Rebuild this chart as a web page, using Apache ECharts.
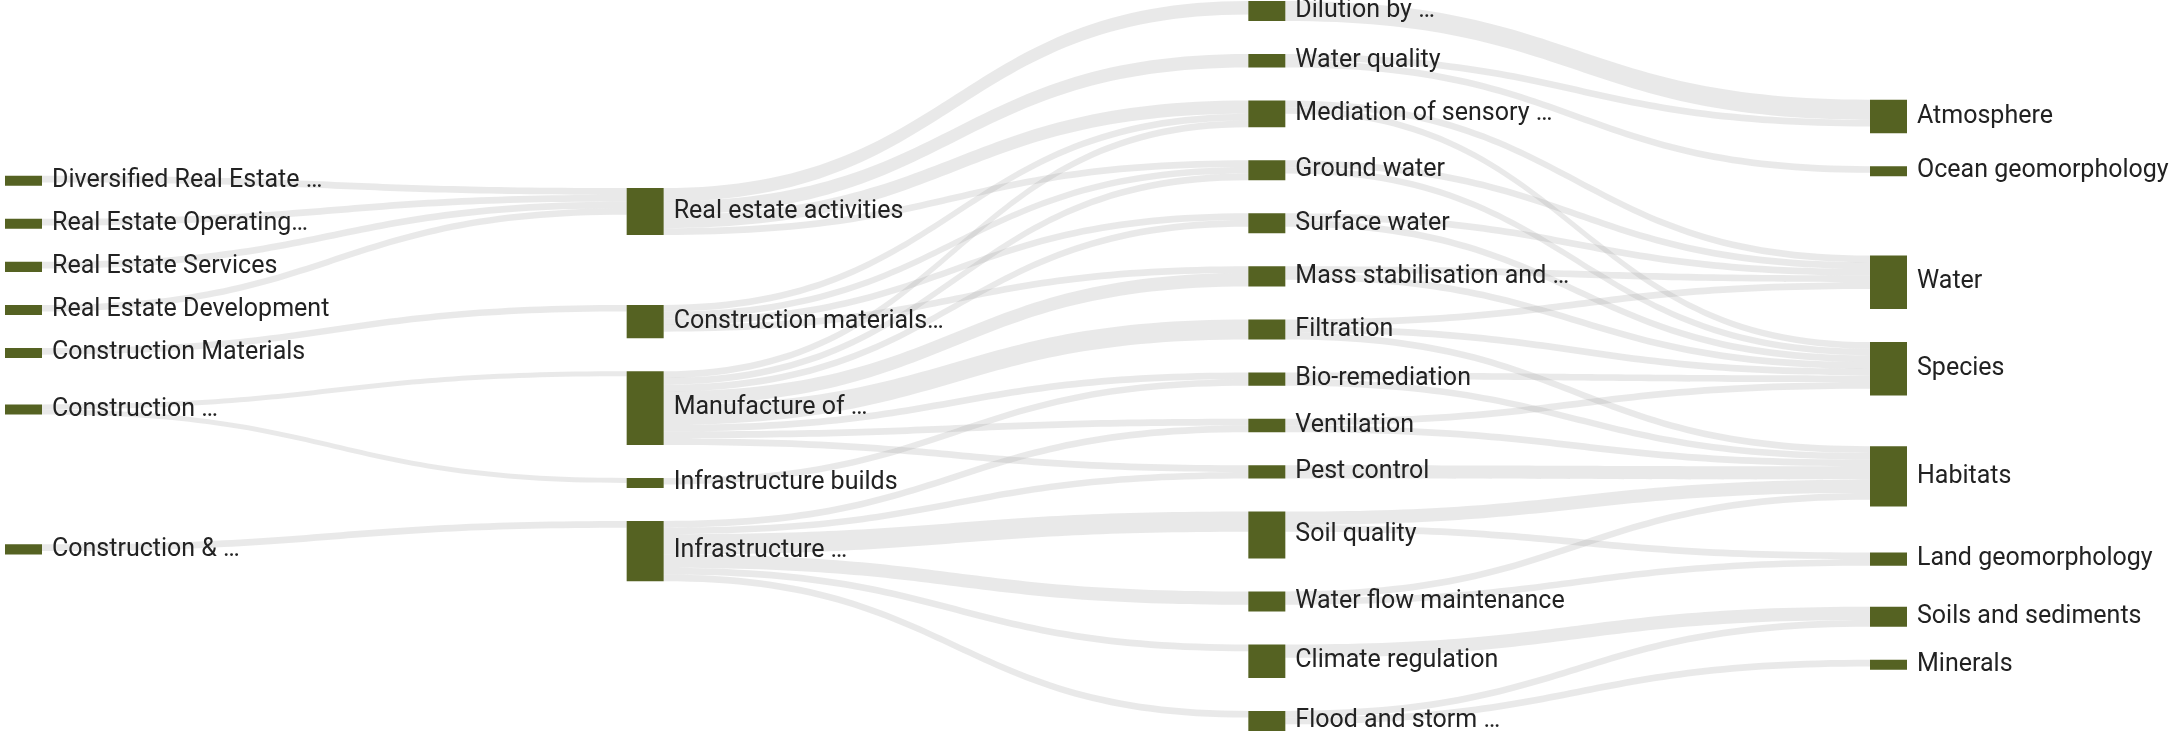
<!DOCTYPE html>
<html>
<head>
<meta charset="utf-8">
<title>Sankey</title>
<script src="https://cdn.jsdelivr.net/npm/echarts@6/dist/echarts.min.js"></script>
<style>
  html, body { margin: 0; padding: 0; background: #fff; }
  #chart { width: 2170px; height: 735px; }
</style>
</head>
<body>
<div id="chart"></div>
<script>
  // column 1: sub-industries
  var industries = ['Diversified Real Estate …', 'Real Estate Operating…', 'Real Estate Services',
    'Real Estate Development', 'Construction Materials', 'Construction …', 'Construction & …'];
  var industryValues = [1.5, 1.5, 1.5, 1.5, 1.5, 1.5, 1.5];

  // column 2: production processes
  var processes = ['Real estate activities', 'Construction materials…', 'Manufacture of …',
    'Infrastructure builds', 'Infrastructure …'];
  var processValues = [7, 5, 11, 1.5, 9];

  // column 3: ecosystem services
  var services = ['Dilution by …', 'Water quality', 'Mediation of sensory …', 'Ground water',
    'Surface water', 'Mass stabilisation and …', 'Filtration', 'Bio-remediation', 'Ventilation',
    'Pest control', 'Soil quality', 'Water flow maintenance', 'Climate regulation', 'Flood and storm …'];
  var serviceValues = [3, 2, 4, 3, 3, 3, 3, 2, 2, 2, 7, 3, 5, 3];

  // column 4: natural capital assets
  var assets = ['Atmosphere', 'Ocean geomorphology', 'Water', 'Species', 'Habitats',
    'Land geomorphology', 'Soils and sediments', 'Minerals'];
  var assetValues = [5, 1.5, 8, 8, 9, 2, 3, 1.5];

  // links: [source, target, value]
  var industryLinks = [
    ['Diversified Real Estate …', 'Real estate activities', 1],
    ['Real Estate Operating…', 'Real estate activities', 1],
    ['Real Estate Services', 'Real estate activities', 1],
    ['Real Estate Development', 'Real estate activities', 1],
    ['Construction Materials', 'Construction materials…', 1],
    ['Construction …', 'Manufacture of …', 0.75],
    ['Construction …', 'Infrastructure builds', 0.75],
    ['Construction & …', 'Infrastructure …', 1]
  ];

  var processLinks = [
    ['Real estate activities', 'Dilution by …', 2],
    ['Real estate activities', 'Water quality', 2],
    ['Real estate activities', 'Mediation of sensory …', 2],
    ['Real estate activities', 'Ground water', 1],
    ['Construction materials…', 'Mediation of sensory …', 1],
    ['Construction materials…', 'Ground water', 1],
    ['Construction materials…', 'Surface water', 1],
    ['Construction materials…', 'Mass stabilisation and …', 1],
    ['Manufacture of …', 'Mediation of sensory …', 1],
    ['Manufacture of …', 'Ground water', 1],
    ['Manufacture of …', 'Surface water', 1],
    ['Manufacture of …', 'Mass stabilisation and …', 2],
    ['Manufacture of …', 'Filtration', 3],
    ['Manufacture of …', 'Bio-remediation', 1],
    ['Manufacture of …', 'Ventilation', 1],
    ['Manufacture of …', 'Pest control', 1],
    ['Infrastructure builds', 'Bio-remediation', 1],
    ['Infrastructure …', 'Ventilation', 1],
    ['Infrastructure …', 'Pest control', 1],
    ['Infrastructure …', 'Soil quality', 3],
    ['Infrastructure …', 'Water flow maintenance', 2],
    ['Infrastructure …', 'Climate regulation', 1],
    ['Infrastructure …', 'Flood and storm …', 1]
  ];

  var serviceLinks = [
    ['Dilution by …', 'Atmosphere', 3],
    ['Water quality', 'Atmosphere', 1],
    ['Water quality', 'Ocean geomorphology', 1],
    ['Mediation of sensory …', 'Water', 1],
    ['Mediation of sensory …', 'Species', 1],
    ['Ground water', 'Water', 1],
    ['Ground water', 'Species', 1],
    ['Surface water', 'Water', 1],
    ['Surface water', 'Species', 1],
    ['Mass stabilisation and …', 'Water', 1],
    ['Mass stabilisation and …', 'Species', 1],
    ['Filtration', 'Water', 1],
    ['Filtration', 'Species', 1],
    ['Filtration', 'Habitats', 1],
    ['Bio-remediation', 'Species', 1],
    ['Bio-remediation', 'Habitats', 1],
    ['Ventilation', 'Species', 1],
    ['Ventilation', 'Habitats', 1],
    ['Pest control', 'Habitats', 2],
    ['Soil quality', 'Habitats', 2],
    ['Soil quality', 'Land geomorphology', 1],
    ['Water flow maintenance', 'Habitats', 1],
    ['Water flow maintenance', 'Land geomorphology', 1],
    ['Climate regulation', 'Soils and sediments', 2],
    ['Flood and storm …', 'Soils and sediments', 1],
    ['Flood and storm …', 'Minerals', 1]
  ];

  function toNodes(names, values) {
    return names.map(function (name, i) {
      return {name: name, value: values[i]};
    });
  }

  function toLinks(list) {
    return list.map(function (l) {
      return {source: l[0], target: l[1], value: l[2]};
    });
  }

  var nodes = [].concat(
    toNodes(industries, industryValues),
    toNodes(processes, processValues),
    toNodes(services, serviceValues),
    toNodes(assets, assetValues)
  );
  var links = [].concat(toLinks(industryLinks), toLinks(processLinks), toLinks(serviceLinks));

  var chart = echarts.init(document.getElementById('chart'));
  chart.setOption({
    animation: false,
    series: [
      {
        type: 'sankey',
        left: 5,
        right: 263,
        top: 1,
        bottom: 4,
        nodeWidth: 37,
        nodeGap: 33,
        layoutIterations: 72,
        draggable: false,
        data: nodes,
        links: links,
        itemStyle: {
          color: '#556222',
          borderWidth: 0
        },
        lineStyle: {
          color: '#999999',
          opacity: 0.22,
          curveness: 0.5
        },
        label: {
          position: 'right',
          distance: 10,
          color: '#222222',
          fontFamily: 'Roboto',
          fontSize: 25
        },
        emphasis: {disabled: true}
      }
    ]
  });
</script>
</body>
</html>
